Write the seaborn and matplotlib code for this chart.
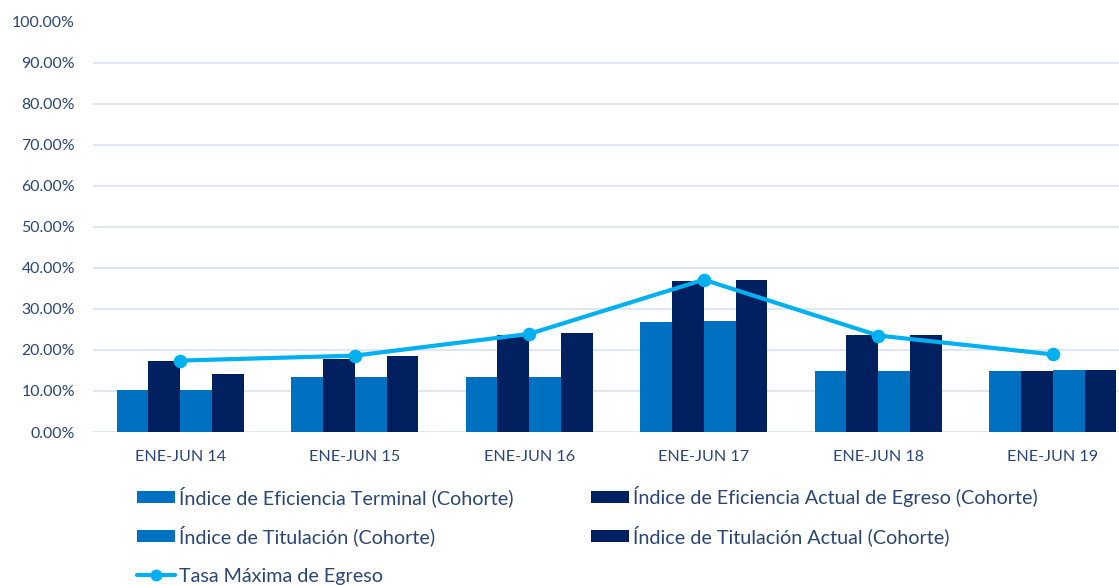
import matplotlib
matplotlib.use("Agg")
import matplotlib.pyplot as plt
import seaborn as sns
import pandas as pd
from matplotlib.ticker import PercentFormatter, MultipleLocator
from matplotlib.patches import Patch
from matplotlib.lines import Line2D

categories = ["ENE-JUN 14", "ENE-JUN 15", "ENE-JUN 16", "ENE-JUN 17", "ENE-JUN 18", "ENE-JUN 19"]
eficiencia_terminal = [10.3, 13.3, 13.3, 26.7, 14.9, 14.9]
eficiencia_actual = [17.4, 17.8, 23.6, 36.7, 23.7, 14.9]
titulacion = [10.3, 13.3, 13.3, 27.0, 14.9, 15.2]
titulacion_actual = [14.2, 18.4, 24.0, 37.0, 23.7, 15.2]
tasa_maxima = [17.4, 18.6, 23.9, 37.1, 23.5, 18.9]

series_names = [
    "Índice de Eficiencia Terminal (Cohorte)",
    "Índice de Eficiencia Actual de Egreso (Cohorte)",
    "Índice de Titulación (Cohorte)",
    "Índice de Titulación Actual (Cohorte)",
]
line_name = "Tasa Máxima de Egreso"

LIGHT = "#0070C0"
DARK = "#002060"
LINE = "#00B0F0"
TEXT = "#2A4677"
GRID = "#D9E2F3"

rows = []
for name, vals in zip(series_names, [eficiencia_terminal, eficiencia_actual, titulacion, titulacion_actual]):
    for c, v in zip(categories, vals):
        rows.append({"cat": c, "serie": name, "valor": v})
df = pd.DataFrame(rows)

sns.set_theme(style="white")
plt.rcParams["font.family"] = ["Lato", "DejaVu Sans"]

fig = plt.figure(figsize=(11.19, 5.85), dpi=100)
ax = fig.add_axes([93 / 1119, 1 - 432 / 585, 1047 / 1119, (432 - 21.5) / 585])

palette = {series_names[0]: LIGHT, series_names[1]: DARK, series_names[2]: LIGHT, series_names[3]: DARK}
sns.barplot(data=df, x="cat", y="valor", hue="serie", hue_order=series_names, order=categories,
            palette=palette, width=0.73, gap=0, saturation=1, ax=ax, legend=False, zorder=2,
            linewidth=0)
sns.pointplot(x=categories, y=tasa_maxima, order=categories, color=LINE, markers="o",
              markersize=7.5, linewidth=3, ax=ax, zorder=4)

ax.set_xlim(-0.5, 5.5)
ax.set_ylim(0, 100)
ax.yaxis.set_major_locator(MultipleLocator(10))
ax.yaxis.set_major_formatter(PercentFormatter(decimals=2))
ax.grid(axis="y", color=GRID, linewidth=1.2, zorder=0)
ax.set_axisbelow(True)
for s in ax.spines.values():
    s.set_visible(False)
ax.set_xlabel("")
ax.set_ylabel("")
ax.tick_params(axis="y", length=0, pad=13, labelsize=11.4, labelcolor=TEXT)
ax.tick_params(axis="x", length=0, pad=13, labelsize=11.6, labelcolor=TEXT)

bar_handles = [
    Patch(facecolor=LIGHT, edgecolor="none"),
    Patch(facecolor=LIGHT, edgecolor="none"),
    Patch(facecolor=DARK, edgecolor="none"),
    Patch(facecolor=DARK, edgecolor="none"),
]
bar_labels = [series_names[0], series_names[2], series_names[1], series_names[3]]
common = dict(frameon=False, fontsize=14.2, handlelength=1.95, handleheight=0.6, handletextpad=0.2,
              borderaxespad=0, borderpad=0)
leg1 = fig.legend(bar_handles, bar_labels, ncol=2, loc="upper left",
                  bbox_to_anchor=(137 / 1119, 1 - 486 / 585),
                  columnspacing=3.9, labelspacing=0.92, **common)
for t in leg1.get_texts():
    t.set_color(TEXT)

line_handle = Line2D([0], [0], color=LINE, lw=3, marker="o", markersize=7.5)
leg2 = fig.legend([line_handle], [line_name], loc="upper left",
                  bbox_to_anchor=(137 / 1119, 1 - 568 / 585), **common)
for t in leg2.get_texts():
    t.set_color(TEXT)

fig.savefig("out.png", dpi=100)
